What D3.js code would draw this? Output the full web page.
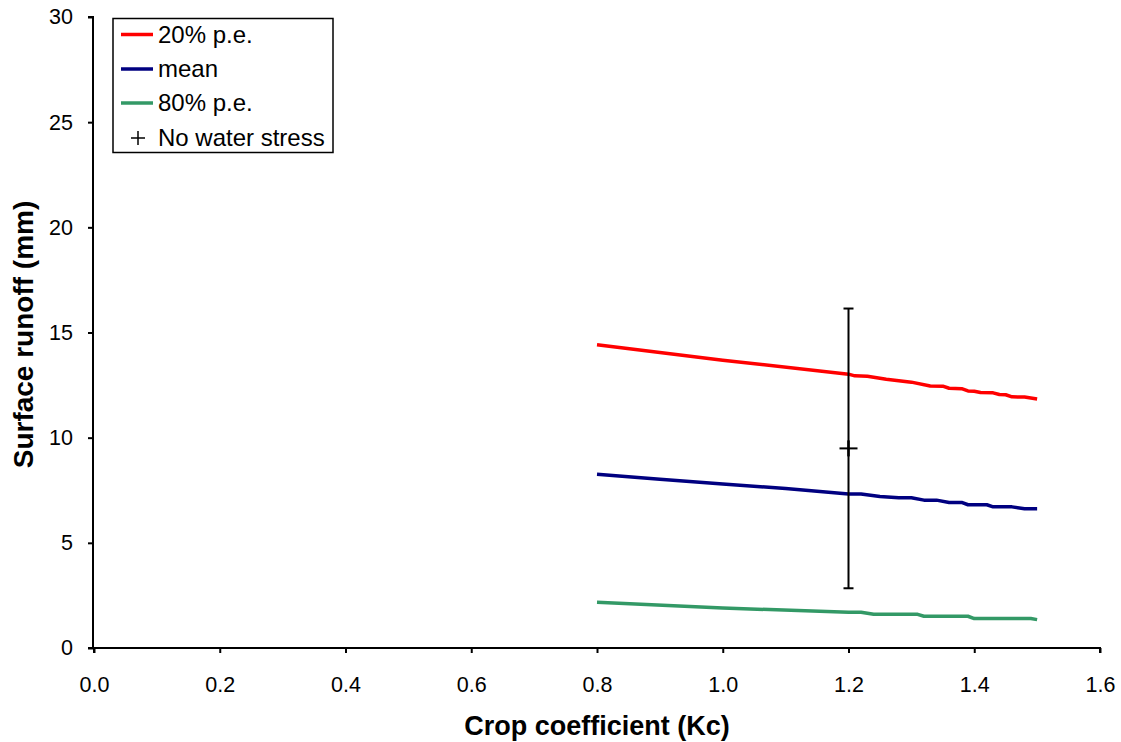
<!DOCTYPE html>
<html>
<head>
<meta charset="utf-8">
<script src="https://cdn.jsdelivr.net/npm/d3@7"></script>
<style>
  html, body { margin: 0; padding: 0; background: #fff; }
  svg { display: block; font-family: "Liberation Sans", Arial, sans-serif; }
</style>
</head>
<body>
<svg id="chart" width="1121" height="742"></svg>
<script>
// ---- data ----
const xTicks = [0.0, 0.2, 0.4, 0.6, 0.8, 1.0, 1.2, 1.4, 1.6];
const yTicks = [0, 5, 10, 15, 20, 25, 30];

const kcRed = [0.8, 1.0, 1.2, 1.21, 1.23, 1.26, 1.30, 1.33, 1.35, 1.36, 1.38, 1.39, 1.40, 1.41, 1.43, 1.44, 1.45, 1.46, 1.48, 1.50];
const pe20  = [14.42, 13.68, 13.02, 12.94, 12.92, 12.78, 12.64, 12.46, 12.45, 12.35, 12.33, 12.22, 12.21, 12.15, 12.13, 12.05, 12.04, 11.94, 11.93, 11.84];

const kcMean = [0.8, 0.9, 1.0, 1.1, 1.2, 1.22, 1.25, 1.28, 1.30, 1.32, 1.34, 1.36, 1.38, 1.39, 1.42, 1.43, 1.46, 1.48, 1.50];
const mean   = [8.26, 8.02, 7.80, 7.58, 7.32, 7.32, 7.20, 7.14, 7.14, 7.03, 7.03, 6.92, 6.92, 6.81, 6.81, 6.71, 6.71, 6.62, 6.62];

const kcGreen = [0.8, 1.0, 1.2, 1.22, 1.24, 1.31, 1.32, 1.39, 1.40, 1.49, 1.50];
const pe80    = [2.17, 1.90, 1.70, 1.70, 1.60, 1.60, 1.51, 1.51, 1.40, 1.40, 1.35];

const noStressKc = [1.2];
const noStressMean = [9.49];
const noStressLow = [2.84];
const noStressHigh = [16.14];

const seriesNames = ["20% p.e.", "mean", "80% p.e.", "No water stress"];
const seriesColors = ["#ff0000", "#000080", "#339966", "#000000"];

// ---- chart ----
const svg = d3.select("#chart");
const x = d3.scaleLinear().domain([0, 1.6]).range([94, 1100]);
const y = d3.scaleLinear().domain([0, 30]).range([648, 17]);

// series lines
const line = d3.line().x(d => x(d[0])).y(d => y(d[1]));
const series = [
  { kc: kcRed, v: pe20, color: seriesColors[0] },
  { kc: kcMean, v: mean, color: seriesColors[1] },
  { kc: kcGreen, v: pe80, color: seriesColors[2] }
];
series.forEach(s => {
  svg.append("path")
    .datum(s.kc.map((k, i) => [k, s.v[i]]))
    .attr("d", line)
    .attr("fill", "none")
    .attr("stroke", s.color)
    .attr("stroke-width", 3.5)
    .attr("stroke-linejoin", "round");
});

// error bar + marker
noStressKc.forEach((k, i) => {
  const g = svg.append("g").attr("stroke", "#000").attr("stroke-width", 2);
  g.append("line").attr("x1", x(k)).attr("x2", x(k)).attr("y1", y(noStressLow[i])).attr("y2", y(noStressHigh[i]));
  g.append("line").attr("x1", x(k) - 5).attr("x2", x(k) + 5).attr("y1", y(noStressLow[i])).attr("y2", y(noStressLow[i]));
  g.append("line").attr("x1", x(k) - 5).attr("x2", x(k) + 5).attr("y1", y(noStressHigh[i])).attr("y2", y(noStressHigh[i]));
  g.append("line").attr("x1", x(k) - 9).attr("x2", x(k) + 9).attr("y1", y(noStressMean[i])).attr("y2", y(noStressMean[i]));
  g.append("line").attr("x1", x(k)).attr("x2", x(k)).attr("y1", y(noStressMean[i]) - 8).attr("y2", y(noStressMean[i]) + 8).attr("stroke-width", 2.5);
});

// axes
const xAxis = svg.append("g").attr("transform", "translate(0,648)")
  .call(d3.axisBottom(x).tickValues(xTicks).tickFormat(d3.format(".1f")).tickSize(5).tickPadding(24));
const yAxis = svg.append("g").attr("transform", "translate(93,0)")
  .call(d3.axisLeft(y).tickValues(yTicks).tickFormat(d3.format("d")).tickSize(5).tickPadding(15));
[xAxis, yAxis].forEach(a => {
  a.select(".domain").attr("stroke", "#000").attr("stroke-width", 2);
  a.selectAll(".tick line").attr("stroke", "#000").attr("stroke-width", 2);
  a.selectAll(".tick text").attr("fill", "#000").style("font-size", "21.5px").style("font-family", "'Liberation Sans', Arial, sans-serif");
});
xAxis.select(".domain").attr("d", "M94,5V0H1100V5");
yAxis.select(".domain").attr("d", "M-5,648H0V17H-5");

// axis titles
svg.append("text")
  .attr("x", 597).attr("y", 735)
  .attr("text-anchor", "middle")
  .style("font-size", "27px").style("font-weight", "bold")
  .text("Crop coefficient (Kc)");
svg.append("text")
  .attr("transform", "translate(33,334.5) rotate(-90)")
  .attr("text-anchor", "middle")
  .style("font-size", "28px").style("font-weight", "bold")
  .text("Surface runoff (mm)");

// legend
const leg = svg.append("g");
leg.append("rect").attr("x", 113).attr("y", 18.5).attr("width", 220).attr("height", 134)
  .attr("fill", "#fff").attr("stroke", "#000").attr("stroke-width", 1.5);
const rowY = [34.5, 69, 103, 138];
seriesNames.forEach((name, i) => {
  if (i < 3) {
    leg.append("line").attr("x1", 121).attr("x2", 153).attr("y1", rowY[i]).attr("y2", rowY[i])
      .attr("stroke", seriesColors[i]).attr("stroke-width", 3.5);
  } else {
    leg.append("line").attr("x1", 131).attr("x2", 145).attr("y1", rowY[i]).attr("y2", rowY[i]).attr("stroke", "#000").attr("stroke-width", 1.5);
    leg.append("line").attr("x1", 138).attr("x2", 138).attr("y1", rowY[i] - 7).attr("y2", rowY[i] + 7).attr("stroke", "#000").attr("stroke-width", 1.5);
  }
  leg.append("text").attr("x", 158).attr("y", rowY[i]).attr("dy", "0.35em")
    .style("font-size", "24px").text(name);
});
</script>
</body>
</html>
